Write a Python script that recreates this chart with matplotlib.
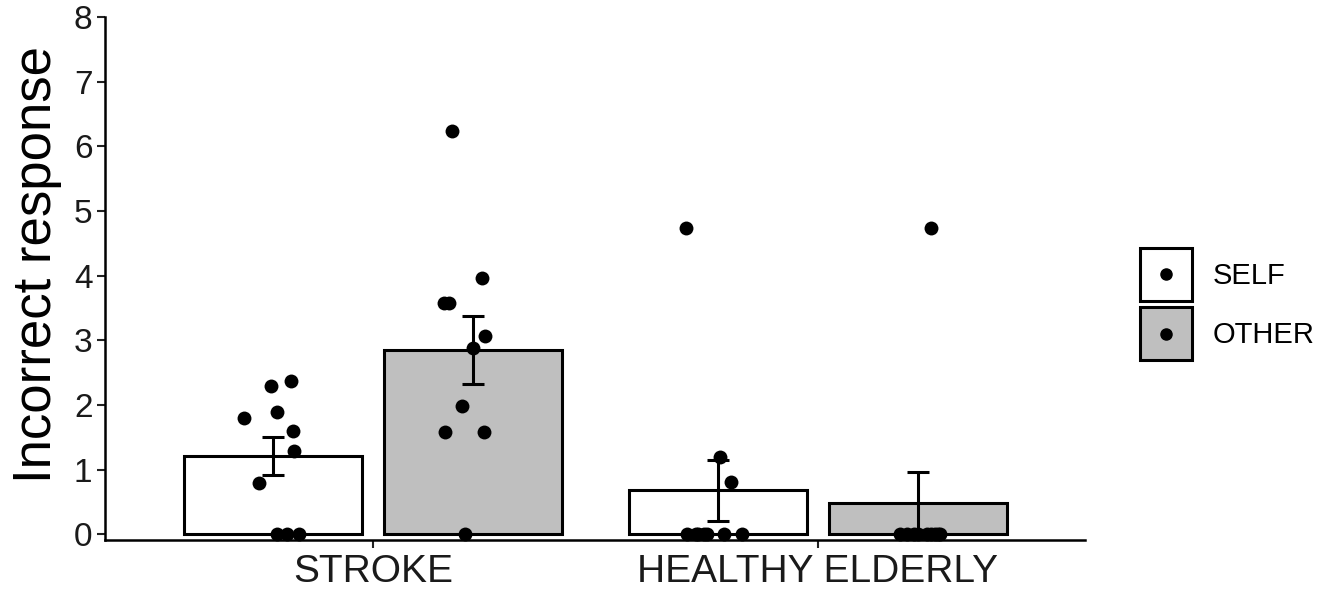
import matplotlib
matplotlib.use("Agg")
import matplotlib.pyplot as plt
import numpy as np
from matplotlib.patches import Rectangle
from matplotlib.lines import Line2D
from matplotlib.legend_handler import HandlerBase

plt.rcParams['font.family'] = ['Liberation Sans', 'DejaVu Sans']

groups = ["STROKE", "HEALTHY ELDERLY"]
conditions = ["SELF", "OTHER"]
bar_colors = ["white", "#bfbfbf"]

means = {"SELF": [1.21, 0.68], "OTHER": [2.85, 0.48]}
sems = {"SELF": [0.30, 0.47], "OTHER": [0.53, 0.48]}

# individual points (value, jitter offset in group-units)
stroke_self = [1.80, 2.29, 2.37, 1.89, 1.59, 1.28, 0.79, 0.0, 0.0, 0.0]
stroke_self_jit = [-0.065, -0.005, 0.04, 0.01, 0.045, 0.048, -0.03, 0.01, 0.033, 0.058]
stroke_other = [6.24, 3.58, 3.58, 3.96, 2.88, 3.07, 1.98, 1.58, 1.58, 0.0]
stroke_other_jit = [-0.047, -0.065, -0.055, 0.02, 0.0, 0.027, -0.025, -0.062, 0.025, -0.017]
he_self = [4.74, 1.20, 0.80, 0.0, 0.0, 0.0, 0.0, 0.0, 0.0, 0.0]
he_self_jit = [-0.072, 0.005, 0.03, -0.07, -0.05, -0.045, -0.03, -0.025, 0.013, 0.055]
he_other = [4.74, 0.0, 0.0, 0.0, 0.0, 0.0, 0.0, 0.0, 0.0, 0.0]
he_other_jit = [0.03, -0.04, -0.025, -0.01, 0.0, 0.02, 0.03, 0.037, 0.045, 0.05]

points = {
    ("STROKE", "SELF"): (stroke_self, stroke_self_jit),
    ("STROKE", "OTHER"): (stroke_other, stroke_other_jit),
    ("HEALTHY ELDERLY", "SELF"): (he_self, he_self_jit),
    ("HEALTHY ELDERLY", "OTHER"): (he_other, he_other_jit),
}


class SquareDotHandler(HandlerBase):
    def __init__(self, face):
        super().__init__()
        self.face = face

    def create_artists(self, legend, orig_handle, xdescent, ydescent,
                       width, height, fontsize, trans):
        side = width
        y0 = -ydescent + (height - side) / 2
        r = Rectangle((-xdescent, y0), side, side, facecolor=self.face,
                      edgecolor="black", linewidth=2.2, transform=trans)
        d = Line2D([-xdescent + side / 2], [y0 + side / 2], marker="o",
                   color="black", markersize=8, linestyle="none", transform=trans)
        return [r, d]


fig = plt.figure(figsize=(13.32, 5.90), dpi=100)
ax = fig.add_axes([105/1332, 1-540/590, (1085-105)/1332, (540-17)/590])

width = 0.40
offsets = {"SELF": -0.225, "OTHER": 0.225}
xg = np.arange(1, len(groups) + 1)

for cond, col in zip(conditions, bar_colors):
    xs = xg + offsets[cond]
    ax.bar(xs, means[cond], width=width, color=col, edgecolor="black",
           linewidth=2.2, zorder=2)
    ax.errorbar(xs, means[cond], yerr=sems[cond], fmt="none", ecolor="black",
                elinewidth=2.2, capsize=8, capthick=2.2, zorder=3)
    for gi, g in enumerate(groups):
        vals, jit = points[(g, cond)]
        ax.scatter(xg[gi] + offsets[cond] + np.array(jit), vals, s=100,
                   color="black", zorder=4, clip_on=False, linewidths=0)

ax.set_xlim(0.398, 2.6)
ax.set_ylim(-0.09, 8.0)
ax.set_yticks(range(0, 9))
ax.set_xticks(xg)
ax.set_xticklabels(groups)
ax.tick_params(axis="y", labelsize=24, length=6, width=1.5, colors="#222222", labelcolor="#1a1a1a", pad=3)
ax.tick_params(axis="x", labelsize=28, length=6, width=1.5, colors="#222222", labelcolor="#1a1a1a", pad=4)
for s in ["top", "right"]:
    ax.spines[s].set_visible(False)
for s in ["left", "bottom"]:
    ax.spines[s].set_linewidth(1.8)
ax.set_ylabel("Incorrect response", fontsize=38)
ax.yaxis.set_label_coords(-0.044, 0.526)

handles = [Rectangle((0, 0), 1, 1, facecolor=c) for c in bar_colors]
handler_map = {h: SquareDotHandler(c) for h, c in zip(handles, bar_colors)}
leg = fig.legend(handles, conditions, handler_map=handler_map,
                 loc="center left", bbox_to_anchor=(1140/1332, 1-304/590),
                 frameon=False, fontsize=21, handlelength=1.79, handleheight=1.79,
                 labelspacing=0.62, handletextpad=0.7, borderpad=0, borderaxespad=0)

fig.savefig("out.png", dpi=100)
